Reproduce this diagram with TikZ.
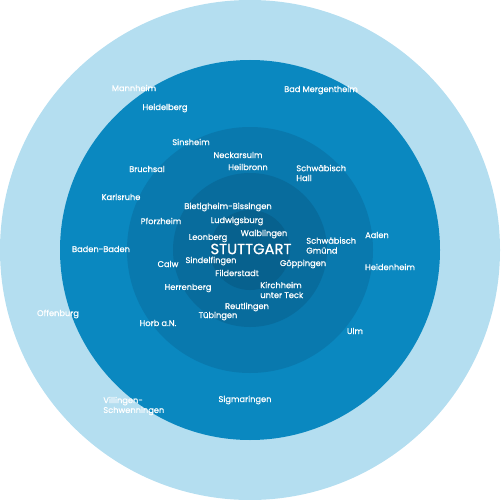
\documentclass[tikz,border=0pt]{standalone}
\usepackage{fontspec}
\setmainfont{Poppins}
\newfontfamily\cityfont{Poppins}[FakeBold=0.8]
\begin{document}
\begin{tikzpicture}[x=0.02cm,y=-0.02cm,
  city/.style={text=white,font=\cityfont\fontsize{4.7}{5.6}\selectfont,inner sep=0pt,align=left},
  cityl/.style={city,anchor=west},
  big/.style={text=white,font=\cityfont\fontsize{8.4}{10}\selectfont,inner sep=0pt}]
\definecolor{c1}{HTML}{B4DEF0}
\definecolor{c2}{HTML}{0A88C0}
\definecolor{c3}{HTML}{0979AE}
\definecolor{c4}{HTML}{086C9D}
\definecolor{c5}{HTML}{07618E}
\useasboundingbox (0,0) rectangle (500,500);
\fill[c1] (250,250) circle (250);
\fill[c2] (250,250) circle (190);
\fill[c3] (250,250) circle (123);
\fill[c4] (250,250) circle (77);
\fill[c5] (250,250) circle (40);
\node[city] (mannheim) at (134,88) {Mannheim};
\node[city] (heidelberg) at (165,108) {Heidelberg};
\node[city] (badmerg) at (321,90) {Bad Mergentheim};
\node[city] (sinsheim) at (191,142) {Sinsheim};
\node[city] (neckarsulm) at (238,155) {Neckarsulm};
\node[city] (heilbronn) at (248,167) {Heilbronn};
\node[cityl] (hall) at (296,173) {Schwäbisch\\Hall};
\node[city] (bruchsal) at (147,169) {Bruchsal};
\node[city] (karlsruhe) at (121,197) {Karlsruhe};
\node[city] (bietigheim) at (228,207) {Bietigheim-Bissingen};
\node[city] (pforzheim) at (161,221) {Pforzheim};
\node[city] (ludwigsburg) at (237,221) {Ludwigsburg};
\node[city] (leonberg) at (208,238) {Leonberg};
\node[city] (waiblingen) at (264,234) {Waiblingen};
\node[city] (aalen) at (377,235) {Aalen};
\node[cityl] (gmuend) at (306,245.5) {Schwäbisch\\Gmünd};
\node[city] (baden) at (101,249) {Baden-Baden};
\node[big] (stuttgart) at (251,249) {STUTTGART};
\node[city] (calw) at (168,264) {Calw};
\node[city] (sindelfingen) at (211,261) {Sindelfingen};
\node[city] (goeppingen) at (303,264) {Göppingen};
\node[city] (heidenheim) at (390,267) {Heidenheim};
\node[city] (filderstadt) at (237,273) {Filderstadt};
\node[city] (herrenberg) at (188,288) {Herrenberg};
\node[cityl] (kirchheim) at (260,290) {Kirchheim\\unter Teck};
\node[city] (reutlingen) at (247,307) {Reutlingen};
\node[city] (tuebingen) at (218,316) {Tübingen};
\node[city] (horb) at (158,323) {Horb a.N.};
\node[city] (offenburg) at (58,314) {Offenburg};
\node[city] (ulm) at (355,331) {Ulm};
\node[cityl] (villingen) at (103,406) {Villingen-\\Schwenningen};
\node[city] (sigmaringen) at (245,400) {Sigmaringen};
\end{tikzpicture}
\end{document}
